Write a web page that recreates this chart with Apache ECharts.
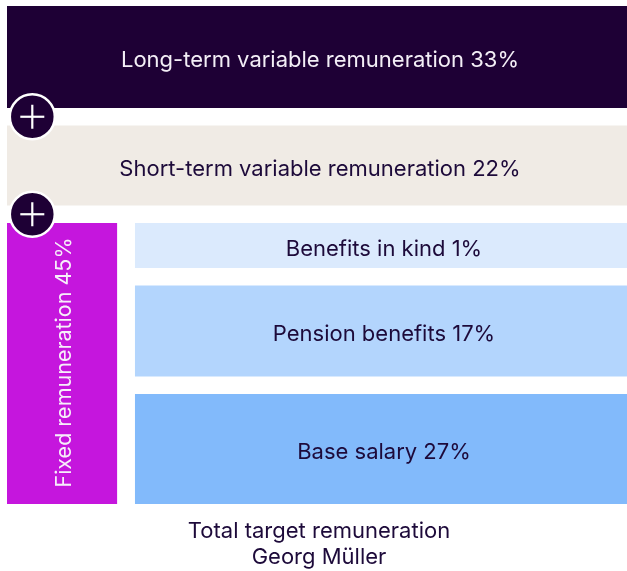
<!DOCTYPE html>
<html>
<head>
<meta charset="utf-8">
<script src="https://cdn.jsdelivr.net/npm/echarts@6/dist/echarts.min.js"></script>
<style>
	html, body { margin: 0; padding: 0; background: #fff; }
	#main { width: 627px; height: 571px; }
</style>
</head>
<body>
<div id="main"></div>
<script>
	// data
	var outerNames = ['Long-term variable remuneration', 'Short-term variable remuneration', 'Fixed remuneration'];
	var outerShares = [33, 22, 45];
	var fixedNames = ['Benefits in kind', 'Pension benefits', 'Base salary'];
	var fixedShares = [1, 17, 27];
	var footer = ['Total target remuneration', 'Georg Müller'];

	// layout of the boxes (axis units), kept apart from the data
	var layout = {
		width: 625,
		rowHeights: [102, 80],
		fixedHeights: [45, 91, 110],
		gap: 17.5,
		leftCol: 111,
		colGap: 18
	};
	var outerColors = ['#1e0035', '#f0ebe5', '#c516dd'];
	var fixedColors = ['#dbeafd', '#b3d5fd', '#82bafb'];
	var dark = '#1d0a3a';

	var boxes = [], pluses = [];
	var y = 0;
	for (var i = 0; i < 2; i++) {
		boxes.push({
			value: [0, y, layout.width, y + layout.rowHeights[i]],
			name: outerNames[i] + ' ' + outerShares[i] + '%',
			color: outerColors[i],
			textColor: i == 0 ? '#f3eef6' : dark,
			rotate: false
		});
		y += layout.rowHeights[i];
		pluses.push([25.5, y + layout.gap / 2]);
		y += layout.gap;
	}
	var fixedTop = y;
	var fy = y;
	for (var j = 0; j < fixedNames.length; j++) {
		boxes.push({
			value: [layout.leftCol + layout.colGap, fy, layout.width, fy + layout.fixedHeights[j]],
			name: fixedNames[j] + ' ' + fixedShares[j] + '%',
			color: fixedColors[j],
			textColor: dark,
			rotate: false
		});
		fy += layout.fixedHeights[j] + (j < fixedNames.length - 1 ? layout.gap : 0);
	}
	boxes.unshift({
		value: [0, fixedTop, layout.leftCol, fy],
		name: outerNames[2] + ' ' + outerShares[2] + '%',
		color: outerColors[2],
		textColor: '#f7eefa',
		rotate: true
	});
	// fixed box first so it stays behind the plus sign
	var order = [1, 2, 0, 3, 4, 5];
	boxes = order.map(function(k) { return boxes[k]; });

	var myChart = echarts.init(document.getElementById('main'));
	var font = 'Inter';

	var option = {
		backgroundColor: '#fff',
		animation: false,
		grid: {
			left: 7,
			top: 6,
			width: layout.width,
			height: fy
		},
		xAxis: { type: 'value', min: 0, max: layout.width, show: false },
		yAxis: { type: 'value', min: 0, max: fy, inverse: true, show: false },
		graphic: [{
			type: 'text',
			x: 319,
			y: 518,
			style: {
				text: footer.join('\n'),
				fill: dark,
				font: '22px ' + font,
				lineHeight: 26,
				align: 'center',
				verticalAlign: 'top'
			}
		}],
		series: [{
			type: 'custom',
			data: boxes,
			clip: false,
			renderItem: function(params, api) {
				var b = boxes[params.dataIndex];
				var p0 = api.coord([api.value(0), api.value(1)]);
				var p1 = api.coord([api.value(2), api.value(3)]);
				return {
					type: 'rect',
					shape: { x: p0[0], y: p0[1], width: p1[0] - p0[0], height: p1[1] - p0[1] },
					style: { fill: b.color },
					textContent: {
						style: {
							text: b.name,
							fill: b.textColor,
							font: (b.rotate ? '21.5px ' : '22px ') + font
						}
					},
					textConfig: {
						position: 'inside',
						rotation: b.rotate ? Math.PI / 2 : 0,
						offset: b.rotate ? [1, 2.5] : [3, 3.5]
					}
				};
			}
		}, {
			type: 'custom',
			data: pluses,
			clip: false,
			z: 5,
			renderItem: function(params, api) {
				var c = api.coord([api.value(0), api.value(1)]);
				var r = 22.5, a = 12;
				return {
					type: 'group',
					children: [{
						type: 'circle',
						shape: { cx: c[0], cy: c[1], r: r },
						style: { fill: '#1e0035', stroke: '#fff', lineWidth: 2.5 }
					}, {
						type: 'line',
						shape: { x1: c[0] - a, y1: c[1], x2: c[0] + a, y2: c[1] },
						style: { stroke: '#fff', lineWidth: 2.2 }
					}, {
						type: 'line',
						shape: { x1: c[0], y1: c[1] - a, x2: c[0], y2: c[1] + a },
						style: { stroke: '#fff', lineWidth: 2.2 }
					}]
				};
			}
		}]
	};
	myChart.setOption(option);
</script>
</body>
</html>
